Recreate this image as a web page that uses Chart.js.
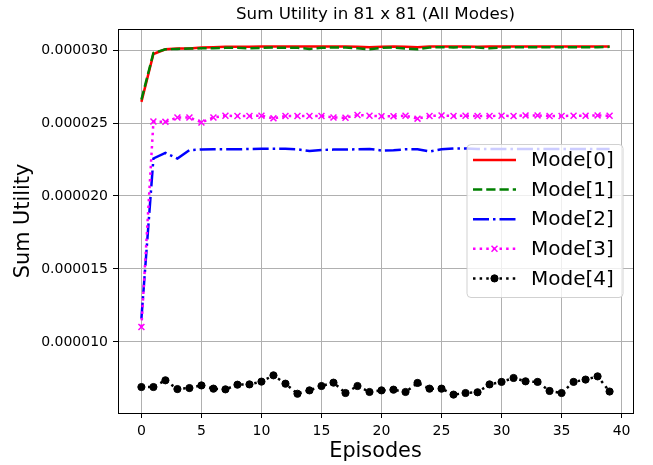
<!DOCTYPE html>
<html>
<head>
<meta charset="utf-8">
<title>Sum Utility in 81 x 81 (All Modes)</title>
<script src="https://cdn.jsdelivr.net/npm/chart.js@4.4.1/dist/chart.umd.min.js"></script>
<style>
  html, body { margin: 0; padding: 0; background: #fff; }
  #wrap { width: 653px; height: 465px; }
</style>
</head>
<body>
<div id="wrap"><canvas id="utilityChart" width="653" height="465"></canvas></div>
<script>
// Chart data (utility values are in units of 1e-6)
const episodes = [0, 1, 2, 3, 4, 5, 6, 7, 8, 9, 10, 11, 12, 13, 14, 15, 16, 17, 18, 19,
  20, 21, 22, 23, 24, 25, 26, 27, 28, 29, 30, 31, 32, 33, 34, 35, 36, 37, 38, 39];

const modeNames = ['Mode[0]', 'Mode[1]', 'Mode[2]', 'Mode[3]', 'Mode[4]'];

const mode0 = [26.45, 29.73, 30.05, 30.10, 30.10, 30.17, 30.20, 30.22, 30.22, 30.22,
  30.25, 30.25, 30.25, 30.25, 30.25, 30.25, 30.25, 30.25, 30.22, 30.20,
  30.22, 30.25, 30.22, 30.20, 30.25, 30.25, 30.25, 30.25, 30.22, 30.25,
  30.25, 30.25, 30.25, 30.25, 30.25, 30.25, 30.25, 30.25, 30.25, 30.25];

const mode1 = [26.60, 29.80, 30.05, 30.08, 30.10, 30.12, 30.13, 30.15, 30.15, 30.12,
  30.15, 30.17, 30.15, 30.15, 30.08, 30.15, 30.18, 30.18, 30.12, 30.05,
  30.15, 30.18, 30.10, 30.05, 30.18, 30.20, 30.18, 30.20, 30.18, 30.12,
  30.18, 30.20, 30.20, 30.20, 30.20, 30.20, 30.20, 30.20, 30.20, 30.22];

const mode2 = [11.60, 22.57, 22.96, 22.57, 23.14, 23.19, 23.20, 23.20, 23.20, 23.22,
  23.23, 23.23, 23.23, 23.20, 23.08, 23.15, 23.18, 23.18, 23.20, 23.22,
  23.12, 23.14, 23.20, 23.20, 23.05, 23.20, 23.25, 23.25, 23.22, 23.22,
  23.22, 23.22, 23.22, 23.22, 23.22, 23.22, 23.22, 23.22, 23.22, 23.22];

const mode3 = [11.02, 25.10, 25.08, 25.38, 25.38, 25.04, 25.38, 25.50, 25.48, 25.48,
  25.50, 25.32, 25.48, 25.48, 25.48, 25.48, 25.38, 25.36, 25.55, 25.50,
  25.47, 25.47, 25.50, 25.30, 25.48, 25.52, 25.48, 25.50, 25.48, 25.48,
  25.50, 25.48, 25.52, 25.52, 25.48, 25.48, 25.50, 25.50, 25.52, 25.50];

const mode4 = [6.91, 6.91, 7.37, 6.77, 6.84, 7.02, 6.80, 6.75, 7.07, 7.09,
  7.28, 7.71, 7.14, 6.45, 6.68, 6.98, 7.21, 6.50, 6.98, 6.57,
  6.68, 6.73, 6.57, 7.19, 6.80, 6.80, 6.39, 6.50, 6.55, 7.09,
  7.26, 7.53, 7.30, 7.26, 6.64, 6.50, 7.26, 7.42, 7.64, 6.60];

// Axis ticks
const xTicks = [0, 5, 10, 15, 20, 25, 30, 35, 40];
const yTicks = [10, 15, 20, 25, 30];
const yTickLabels = ['0.000010', '0.000015', '0.000020', '0.000025', '0.000030'];

const FONT = "'DejaVu Sans', 'Liberation Sans', sans-serif";

document.addEventListener('DOMContentLoaded', function() {
  initializeChart();
});

// Pair every value with its episode for the linear x axis
function toPoints(values) {
  return episodes.map((ep, i) => ({ x: ep, y: values[i] }));
}

// Top and right spines (left/bottom come from the scale borders)
const boxSpines = {
  id: 'boxSpines',
  afterDatasetsDraw(chart) {
    const { ctx, chartArea } = chart;
    ctx.save();
    ctx.strokeStyle = '#000';
    ctx.lineWidth = 1;
    ctx.setLineDash([]);
    const l = Math.floor(chartArea.left) + 0.5;
    const t = Math.floor(chartArea.top) + 0.5;
    const r = Math.floor(chartArea.right) + 0.5;
    const b = Math.floor(chartArea.bottom) + 0.5;
    ctx.strokeRect(l, t, r - l, b - t);
    ctx.restore();
  }
};

// Legend drawn inside the plot, like matplotlib's loc="best"
const insideLegend = {
  id: 'insideLegend',
  afterDatasetsDraw(chart) {
    const ctx = chart.ctx;
    const box = { x: 467, y: 144.5, w: 156, h: 153, r: 4 };
    ctx.save();
    ctx.beginPath();
    ctx.roundRect(box.x, box.y, box.w, box.h, box.r);
    ctx.fillStyle = 'rgba(255,255,255,0.8)';
    ctx.fill();
    ctx.strokeStyle = 'rgba(204,204,204,0.9)';
    ctx.lineWidth = 1;
    ctx.stroke();

    chart.data.datasets.forEach((ds, i) => {
      const y = 160 + i * 29.6;
      ctx.setLineDash(ds.borderDash || []);
      ctx.strokeStyle = ds.borderColor;
      ctx.lineWidth = ds.borderWidth;
      ctx.beginPath();
      ctx.moveTo(473, y);
      ctx.lineTo(516, y);
      ctx.stroke();

      if (ds.pointRadius > 0) {
        ctx.setLineDash([]);
        ctx.fillStyle = ds.pointBackgroundColor;
        ctx.strokeStyle = ds.pointBorderColor;
        ctx.lineWidth = ds.pointBorderWidth;
        Chart.helpers.drawPoint(ctx, {
          pointStyle: ds.pointStyle,
          radius: ds.pointRadius,
          borderWidth: ds.pointBorderWidth,
          rotation: 0
        }, 494.5, y);
      }

      ctx.fillStyle = '#000';
      ctx.font = '20px ' + FONT;
      ctx.textAlign = 'left';
      ctx.textBaseline = 'middle';
      ctx.fillText(ds.label, 531, y + 1);
    });
    ctx.restore();
  }
};

function initializeChart() {
  const ctx = document.getElementById('utilityChart');
  const lw = 2.5;

  new Chart(ctx, {
    type: 'line',
    data: {
      datasets: [
        {
          label: modeNames[0],
          data: toPoints(mode0),
          borderColor: '#ff0000',
          borderWidth: lw,
          pointRadius: 0,
          order: 4
        },
        {
          label: modeNames[1],
          data: toPoints(mode1),
          borderColor: '#008000',
          borderWidth: lw,
          borderDash: [3.7 * lw, 1.6 * lw],
          pointRadius: 0,
          order: 3
        },
        {
          label: modeNames[2],
          data: toPoints(mode2),
          borderColor: '#0000ff',
          borderWidth: lw,
          borderDash: [6.4 * lw, 1.6 * lw, 1 * lw, 1.6 * lw],
          pointRadius: 0,
          order: 2
        },
        {
          label: modeNames[3],
          data: toPoints(mode3),
          borderColor: '#ff00ff',
          borderWidth: lw,
          borderDash: [1 * lw, 1.65 * lw],
          pointStyle: 'crossRot',
          pointRadius: 4.2,
          pointBorderWidth: 1.5,
          pointBorderColor: '#ff00ff',
          pointBackgroundColor: '#ff00ff',
          order: 1
        },
        {
          label: modeNames[4],
          data: toPoints(mode4),
          borderColor: '#000000',
          borderWidth: lw,
          borderDash: [1 * lw, 1.65 * lw],
          pointStyle: 'circle',
          pointRadius: 3.6,
          pointBorderWidth: 1,
          pointBorderColor: '#000000',
          pointBackgroundColor: '#000000',
          order: 0
        }
      ]
    },
    options: {
      responsive: false,
      animation: false,
      devicePixelRatio: 1,
      layout: {
        padding: { left: 0, top: 0, right: 20, bottom: 0 }
      },
      elements: {
        line: { tension: 0, fill: false, borderCapStyle: 'butt' }
      },
      plugins: {
        legend: { display: false },
        tooltip: { enabled: false },
        title: {
          display: true,
          fullSize: false,
          text: 'Sum Utility in 81 x 81 (All Modes)',
          color: '#000',
          font: { family: FONT, size: 16.7, weight: 'normal' },
          padding: { top: 5, bottom: 4 }
        }
      },
      scales: {
        x: {
          type: 'linear',
          min: -1.95,
          max: 40.95,
          afterFit: s => { s.height = 52; },
          afterBuildTicks: s => { s.ticks = xTicks.map(v => ({ value: v })); },
          ticks: {
            color: '#000',
            font: { family: FONT, size: 14 },
            padding: 5,
            maxRotation: 0,
            callback: v => String(v)
          },
          grid: {
            color: '#b0b0b0',
            lineWidth: 1,
            tickColor: '#000',
            tickLength: 5
          },
          border: { display: true, color: '#000', width: 1 },
          title: {
            display: true,
            text: 'Episodes',
            color: '#000',
            font: { family: FONT, size: 20.8 },
            padding: { top: 0, bottom: 1 }
          }
        },
        y: {
          type: 'linear',
          min: 5.13,
          max: 31.44,
          afterFit: s => { s.width = 118; },
          afterBuildTicks: s => { s.ticks = yTicks.map(v => ({ value: v })); },
          ticks: {
            color: '#000',
            font: { family: FONT, size: 14 },
            padding: 5,
            callback: (v, i) => yTickLabels[i]
          },
          grid: {
            color: '#b0b0b0',
            lineWidth: 1,
            tickColor: '#000',
            tickLength: 5
          },
          border: { display: true, color: '#000', width: 1 },
          title: {
            display: true,
            text: 'Sum Utility',
            color: '#000',
            font: { family: FONT, size: 20.8 },
            padding: { top: 11, bottom: 0 }
          }
        }
      }
    },
    plugins: [boxSpines, insideLegend]
  });
}
</script>
</body>
</html>
